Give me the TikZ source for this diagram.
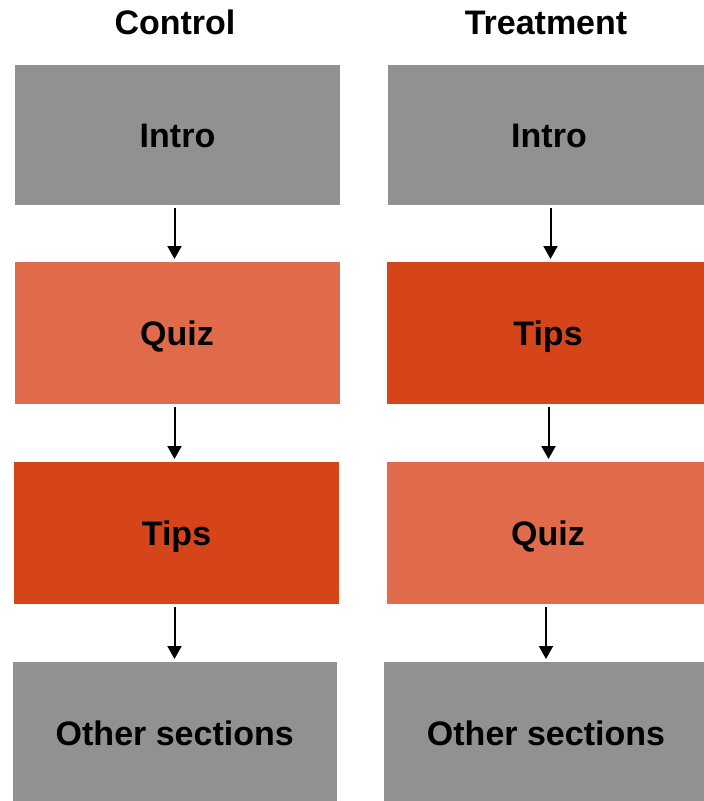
\documentclass[tikz,border=0pt]{standalone}
\usepackage{fontspec}
\setmainfont{Liberation Sans}
\usetikzlibrary{arrows.meta}
\definecolor{boxgray}{RGB}{145,145,145}
\definecolor{lightor}{RGB}{224,107,74}
\definecolor{darkor}{RGB}{214,68,25}
\tikzset{
  x=1pt,y=-1pt,
  lbl/.style={font=\fontsize{34}{40}\selectfont\bfseries,text height=24.4pt,text depth=0pt},
  blk/.style={lbl,inner sep=0pt,outer sep=0pt,minimum height=142pt},
  wideL/.style={blk,minimum width=325pt},
  wideR/.style={blk,minimum width=322pt},
  ttl/.style={lbl,inner sep=0pt},
  conn/.style={line width=2pt,-{Triangle[width=14pt,length=13pt]},shorten <=2.5pt,shorten >=3pt}
}
\begin{document}
\begin{tikzpicture}
\useasboundingbox (0,0) rectangle (704,801);
% left column
\node[wideL,fill=boxgray,minimum height=140pt] (li) at (177.5,135) {Intro};
\node[wideL,fill=lightor] (lq) at (177,333) {Quiz};
\node[wideL,fill=darkor] (lt) at (176.5,533) {Tips};
\node[wideL,fill=boxgray,minimum width=324.5pt,minimum height=142pt] (lo) at (174.75,733) {Other sections};
% right column
\node[wideR,fill=boxgray,minimum width=323pt,minimum height=140pt] (ri) at (549,135) {Intro};
\node[wideR,fill=darkor] (rt) at (548,333) {Tips};
\node[wideR,fill=lightor,minimum width=323pt] (rq) at (548,533) {Quiz};
\node[wideR,fill=boxgray,minimum width=324pt] (ro) at (546,733) {Other sections};
% titles
\node[ttl] (tc) at (175,22) {Control};
\node[ttl] (tt) at (546,22) {Treatment};
% connectors
\draw[conn] ([xshift=-3pt]li.south) -- ([xshift=-3pt]li.south |- lq.north);
\draw[conn] ([xshift=-2.5pt]lq.south) -- ([xshift=-2.5pt]lq.south |- lt.north);
\draw[conn] ([xshift=-2pt]lt.south) -- ([xshift=-2pt]lt.south |- lo.north);
\draw[conn] ([xshift=1.5pt]ri.south) -- ([xshift=1.5pt]ri.south |- rt.north);
\draw[conn] ([xshift=0.5pt]rt.south) -- ([xshift=0.5pt]rt.south |- rq.north);
\draw[conn] ([xshift=-2pt]rq.south) -- ([xshift=-2pt]rq.south |- ro.north);
\end{tikzpicture}
\end{document}
